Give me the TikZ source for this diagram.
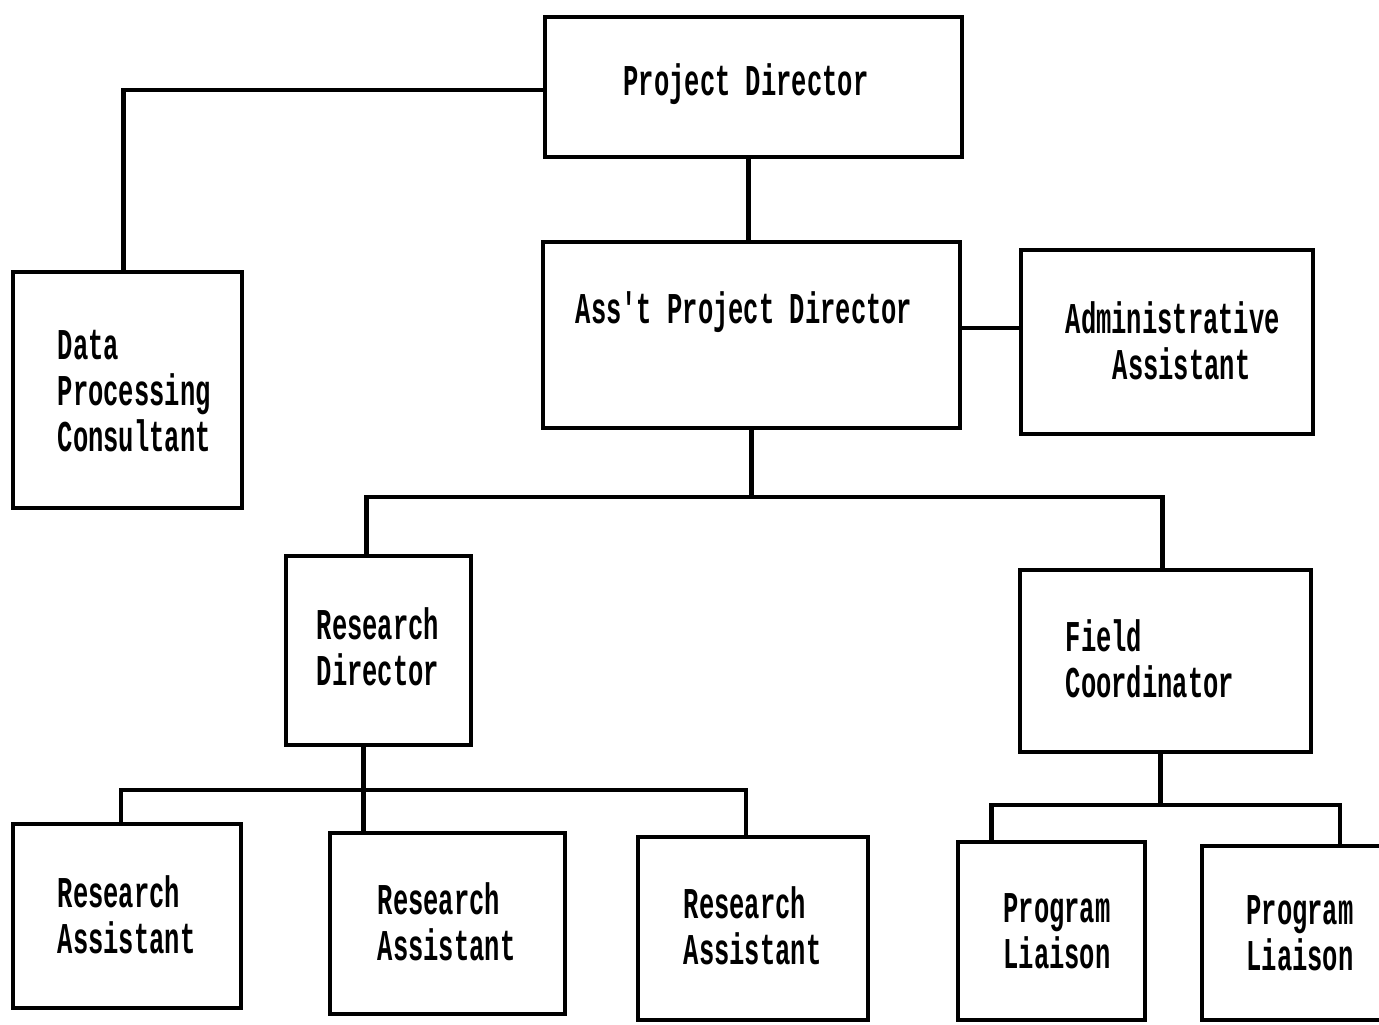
\documentclass[tikz,border=0pt]{standalone}
\usepackage{fontspec}
\newfontfamily\typewr[FakeStretch=0.58]{Liberation Mono}
\usetikzlibrary{positioning,calc}
\newcommand{\Typed}{\fontsize{12.5}{13.1}\selectfont\typewr\bfseries}
\tikzset{
  post/.style={draw=black, line width=1.2pt, fill=white, inner sep=0pt},
  posttext/.style={inner sep=0pt, font=\Typed, text=black},
  wire/.style={line width=1.2pt, black},
}

\begin{document}
\begin{tikzpicture}[x=0.01cm, y=-0.01cm]
  \useasboundingbox (0,0) rectangle (1379,1024);
  \fill[white] (0,0) rectangle (1379,1024);

  % boxes
  \node[post, minimum width=4.17cm, minimum height=1.40cm] (pd)  at (753.5,87)  {};
  \node[post, minimum width=2.29cm, minimum height=2.36cm] (dpc) at (127.5,390) {};
  \node[post, minimum width=4.17cm, minimum height=1.86cm] (apd) at (751.5,335) {};
  \node[post, minimum width=2.92cm, minimum height=1.84cm] (aa)  at (1167,342)  {};
  \node[post, minimum width=1.85cm, minimum height=1.89cm] (rd)  at (378.5,650.5) {};
  \node[post, minimum width=2.91cm, minimum height=1.82cm] (fc)  at (1165.5,661) {};
  \node[post, minimum width=2.28cm, minimum height=1.84cm] (ra1) at (127,916)   {};
  \node[post, minimum width=2.35cm, minimum height=1.81cm] (ra2) at (447.5,923.5) {};
  \node[post, minimum width=2.30cm, minimum height=1.83cm] (ra3) at (753,928.5) {};
  \node[post, minimum width=1.87cm, minimum height=1.78cm] (pl1) at (1051.5,931) {};
  \node[post, minimum width=1.98cm, minimum height=1.74cm] (pl2) at (1301,933)  {};

  % titles
  \node[posttext] (pdT)  at (746,84)  {Project Director};
  \node[posttext, anchor=west, align=left] (dpcT) at (57,391)
    {Data\\Processing\\Consultant};
  \node[posttext] (apdT) at (744,312) {Ass't Project Director};
  \node[posttext, anchor=west, align=left] (aaT) at (1065,341)
    {Administrative\\\hspace*{0.47cm}Assistant};
  \node[posttext, anchor=west, align=left] (rdT)  at (316,647) {Research\\Director};
  \node[posttext, anchor=west, align=left] (fcT)  at (1065,659) {Field\\Coordinator};
  \node[posttext, anchor=west, align=left] (ra1T) at (57,915)  {Research\\Assistant};
  \node[posttext, anchor=west, align=left] (ra2T) at (377,922) {Research\\Assistant};
  \node[posttext, anchor=west, align=left] (ra3T) at (683,926) {Research\\Assistant};
  \node[posttext, align=center] (pl1T) at (1057,931) {Program\\Liaison};
  \node[posttext, align=center] (pl2T) at (1300,933) {Program\\Liaison};

  % joints
  \coordinate (bus1) at (748,497);
  \coordinate (bus2) at (363,790);
  \coordinate (bus3) at (1160,805);

  % lines
  \draw[wire] ([yshift=-0.03cm]pd.west) -| ([xshift=-0.04cm]dpc.north);
  \draw[wire] ([xshift=-0.05cm]pd.south) -- ([xshift=-0.05cm]pd.south |- apd.north);
  \draw[wire] ([yshift=0.07cm]apd.east) -- ([yshift=0.07cm]apd.east -| aa.west);
  \draw[wire] (apd.south) -- (apd.south |- bus1);
  \draw[wire] ([xshift=-0.12cm]rd.north) |- (bus1) -| ([xshift=-0.03cm]fc.north);
  \draw[wire] ([xshift=-0.15cm]rd.south) -- ([xshift=-0.15cm]rd.south |- ra2.north);
  \draw[wire] ([xshift=-0.06cm]ra1.north) |- (bus2) -| ([xshift=-0.07cm]ra3.north);
  \draw[wire] ([xshift=-0.05cm]fc.south) -- ([xshift=-0.05cm]fc.south |- bus3);
  \draw[wire] ([xshift=-0.6cm]pl1.north) |- (bus3) -| ([xshift=0.39cm]pl2.north);
\end{tikzpicture}
\end{document}
